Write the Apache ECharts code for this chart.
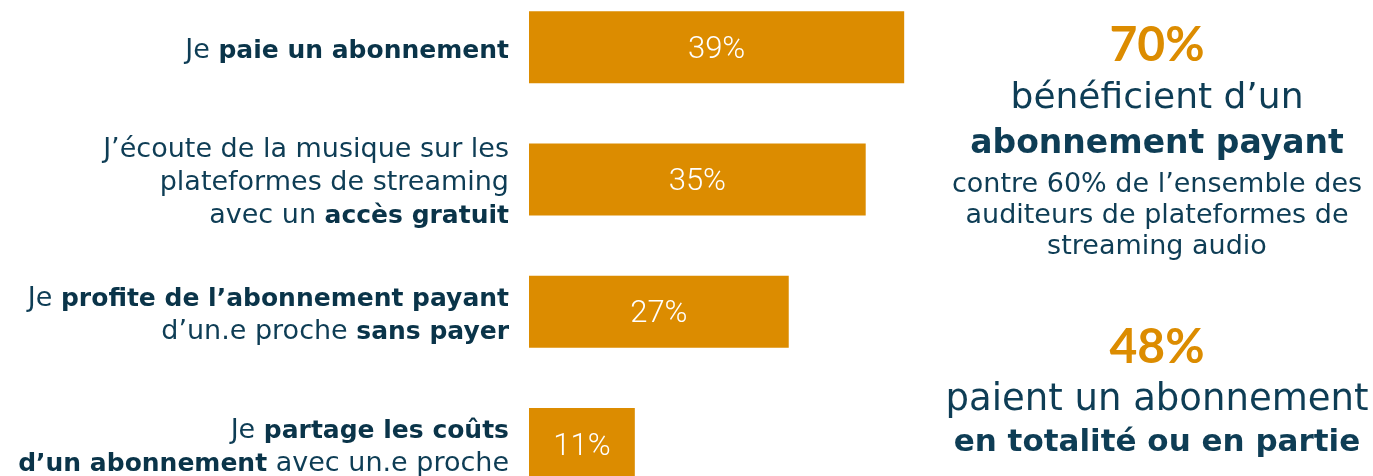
<!DOCTYPE html>
<html>
<head>
<meta charset="utf-8">
<script src="https://cdn.jsdelivr.net/npm/echarts@6/dist/echarts.min.js"></script>
<style>
  html, body { margin: 0; padding: 0; background: #fff; width: 1373px; height: 476px; overflow: hidden; position: relative; }
  /* la 4e barre est coupée en bas dans l'original : le graphique déborde */
  #chart { position: absolute; left: 0; top: -19px; width: 1373px; height: 529px; }
</style>
</head>
<body>
<div id="chart"></div>
<script>
// libellés (avec balises rich pour le gras)
const categories = [
  'Je {b|paie un abonnement}',
  'J\u2019écoute de la musique sur les\nplateformes de streaming\navec un {b|accès gratuit}',
  'Je {b|profite de l\u2019abonnement payant}\nd\u2019un.e proche {b|sans payer}',
  'Je {b|partage les coûts}\n{b|d\u2019un abonnement} avec un.e proche'
];
// pourcentages
const shares = [39, 35, 27, 11];

// encadré de droite
const keyFigures = ['70%', '48%'];
const keyLines1 = ['bénéficient d\u2019un', 'abonnement payant', 'contre 60% de l\u2019ensemble des', 'auditeurs de plateformes de', 'streaming audio'];
const keyLines2 = ['paient un abonnement', 'en totalité ou en partie'];

const ORANGE = '#dc8c00';
const DARK = '#0e3d55';
const FONT = 'DejaVu Sans';
const OFFSET = 19; // décalage du conteneur

function txt(text, y, size, weight, color, family) {
  return {
    type: 'text',
    style: {
      text: text,
      x: 1157,
      y: y + OFFSET,
      textAlign: 'center',
      textVerticalAlign: 'middle',
      fill: color || DARK,
      fontFamily: family || FONT,
      fontSize: size,
      fontWeight: weight || 'normal'
    }
  };
}

const myChart = echarts.init(document.getElementById('chart'));
const option = {
  animation: false,
  grid: { left: 529, top: 0, width: 481, height: 529, outerBoundsMode: 'none' },
  xAxis: {
    type: 'value',
    min: 0,
    max: 50,
    show: false
  },
  yAxis: {
    type: 'category',
    inverse: true,
    data: categories,
    axisLine: { show: false },
    axisTick: { show: false },
    splitLine: { show: false },
    axisLabel: {
      margin: 20,
      align: 'right',
      padding: [8, 0, 0, 0],
      fontFamily: FONT,
      fontSize: 27,
      lineHeight: 33,
      color: DARK,
      rich: {
        b: { fontFamily: FONT, fontSize: 25, lineHeight: 33, fontWeight: 'bold', color: '#0a3449' }
      }
    }
  },
  series: [{
    type: 'bar',
    data: shares,
    barWidth: 72,
    itemStyle: { color: ORANGE },
    label: {
      show: true,
      position: 'inside',
      offset: [0, 3],
      formatter: '{c}%',
      color: '#fff',
      fontFamily: 'Roboto',
      fontWeight: 300,
      fontSize: 31
    }
  }],
  graphic: [
    txt(keyFigures[0], 46, 48, 'bold', ORANGE, 'Lato'),
    txt(keyLines1[0], 99, 36),
    txt(keyLines1[1], 144, 33, 'bold'),
    txt(keyLines1[2], 185, 27),
    txt(keyLines1[3], 216, 27),
    txt(keyLines1[4], 247, 27),
    txt(keyFigures[1], 348, 48, 'bold', ORANGE, 'Lato'),
    txt(keyLines2[0], 400, 37),
    txt(keyLines2[1], 443, 31, 'bold')
  ]
};
myChart.setOption(option);
</script>
</body>
</html>
